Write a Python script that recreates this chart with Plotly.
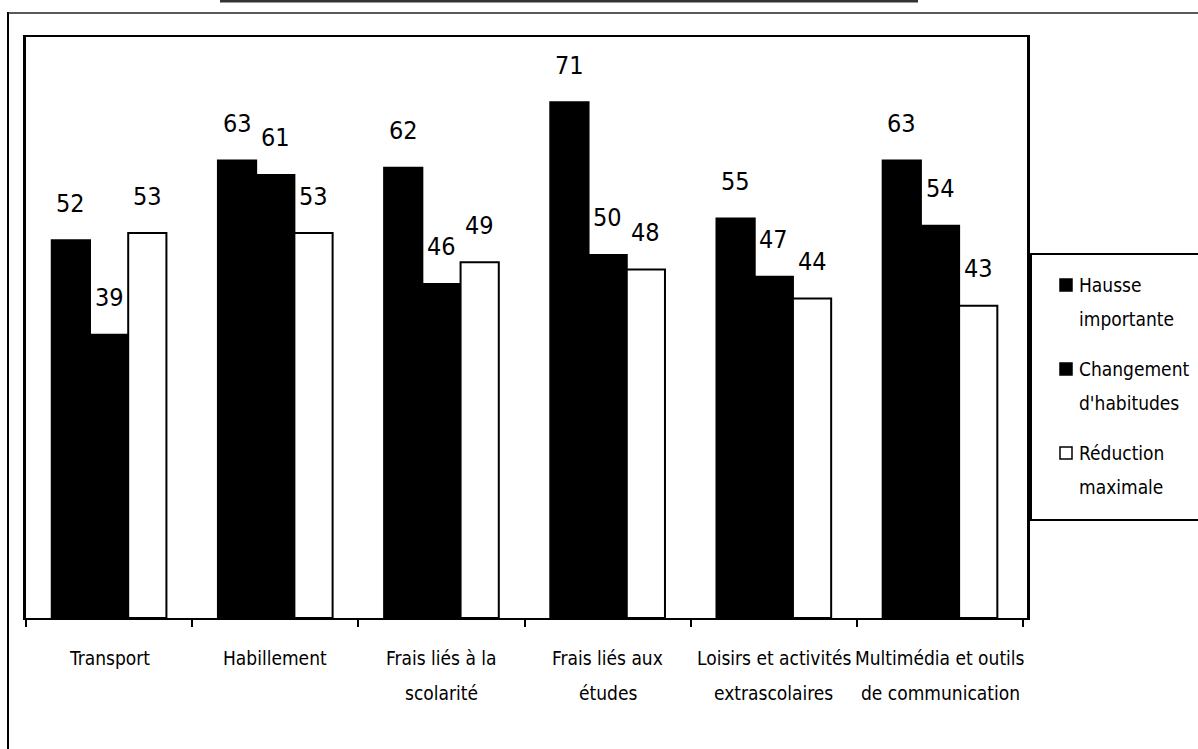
import plotly.graph_objects as go

# Categories (each label split on two lines under the axis)
categories = [
    "Transport",
    "Habillement",
    "Frais liés à la<br>scolarité",
    "Frais liés aux<br>études",
    "Loisirs et activités<br>extrascolaires",
    "Multimédia et outils<br>de communication",
]

series_names = [
    "Hausse<br>importante",
    "Changement<br>d'habitudes",
    "Réduction<br>maximale",
]

hausse_importante = [52, 63, 62, 71, 55, 63]
changement_habitudes = [39, 61, 46, 50, 47, 54]
reduction_maximale = [53, 53, 49, 48, 44, 43]

series_values = [hausse_importante, changement_habitudes, reduction_maximale]
fill_colors = ["#000000", "#000000", "#ffffff"]

FONT = "DejaVu Sans Condensed, Liberation Sans Narrow, Arial Narrow, sans-serif"

W, H = 1198, 749
ML, MR, MT, MB = 26, 171, 37, 131
PW, PH = W - ML - MR, H - MT - MB


def px_x(px):
    return (px - ML) / PW


def px_y(py):
    return (H - MB - py) / PH


BARGAP = 0.31
n_series = len(series_values)
bar_w = (1 - BARGAP) / n_series

fig = go.Figure()
for j, (name, vals, col) in enumerate(zip(series_names, series_values, fill_colors)):
    fig.add_trace(go.Bar(
        x=categories,
        y=vals,
        name=name.replace("<br>", " "),
        marker=dict(color=col, line=dict(color="#000000", width=2)),
        showlegend=False,
        hoverinfo="skip",
    ))

annotations = []
# value labels above each bar
for j, vals in enumerate(series_values):
    for i, v in enumerate(vals):
        annotations.append(dict(
            x=i + (j - (n_series - 1) / 2) * bar_w,
            y=v,
            xref="x", yref="y",
            text=str(v),
            showarrow=False,
            yanchor="middle",
            yshift=37,
            font=dict(family=FONT, size=25, color="#000000"),
        ))

# category labels, one annotation per line for wide line spacing
for i, cat in enumerate(categories):
    for k, line in enumerate(cat.split("<br>")):
        annotations.append(dict(
            x=i, y=px_y(658 + 35 * k),
            xref="x", yref="paper",
            text=line,
            showarrow=False,
            yanchor="middle",
            font=dict(family=FONT, size=19, color="#000000"),
        ))

shapes = [
    # outer frame: left and top edges
    dict(type="line", xref="paper", yref="paper",
         x0=px_x(8), x1=px_x(8), y0=px_y(12), y1=px_y(749),
         line=dict(color="#000000", width=2)),
    dict(type="line", xref="paper", yref="paper",
         x0=px_x(8), x1=px_x(1198), y0=px_y(13), y1=px_y(13),
         line=dict(color="#222222", width=1.5)),
    # heading rule above the frame
    dict(type="line", xref="paper", yref="paper",
         x0=px_x(220), x1=px_x(918), y0=px_y(1), y1=px_y(1),
         line=dict(color="#333333", width=3)),
    # legend box (open on the right edge)
    dict(type="rect", xref="paper", yref="paper",
         x0=px_x(1031), x1=px_x(1202), y0=px_y(520), y1=px_y(254),
         line=dict(color="#000000", width=2), fillcolor="#ffffff", layer="below"),
]

# legend entries: swatch + two-line label
LEG_TOP, LEG_STEP, LEG_LINE = 285, 84, 34
for j, (name, col) in enumerate(zip(series_names, fill_colors)):
    yc = LEG_TOP + j * LEG_STEP
    shapes.append(dict(
        type="rect", xref="paper", yref="paper",
        x0=px_x(1060), x1=px_x(1072), y0=px_y(yc + 6), y1=px_y(yc - 6),
        fillcolor=col, line=dict(color="#000000", width=1.5),
    ))
    for k, line in enumerate(name.split("<br>")):
        annotations.append(dict(
            x=px_x(1077), y=px_y(yc + k * LEG_LINE),
            xref="paper", yref="paper",
            text=line,
            showarrow=False,
            xanchor="left", yanchor="middle",
            font=dict(family=FONT, size=19, color="#000000"),
        ))

fig.update_layout(
    width=W, height=H,
    margin=dict(l=ML, r=MR, t=MT, b=MB, pad=0, autoexpand=False),
    paper_bgcolor="#ffffff",
    plot_bgcolor="#ffffff",
    barmode="group",
    bargap=BARGAP,
    bargroupgap=0,
    font=dict(family=FONT, color="#000000"),
    showlegend=False,
    xaxis=dict(
        type="category",
        showline=True, linecolor="#000000", linewidth=2, mirror=True,
        ticks="outside", tickson="boundaries", ticklen=7, tickwidth=2,
        tickcolor="#000000",
        showticklabels=False,
        showgrid=False, zeroline=False,
    ),
    yaxis=dict(
        range=[0, 80],
        showline=True, linecolor="#000000", linewidth=2.5, mirror=True,
        ticks="", showticklabels=False,
        showgrid=False, zeroline=False,
    ),
    annotations=annotations,
    shapes=shapes,
)

fig.write_html("out.html")
